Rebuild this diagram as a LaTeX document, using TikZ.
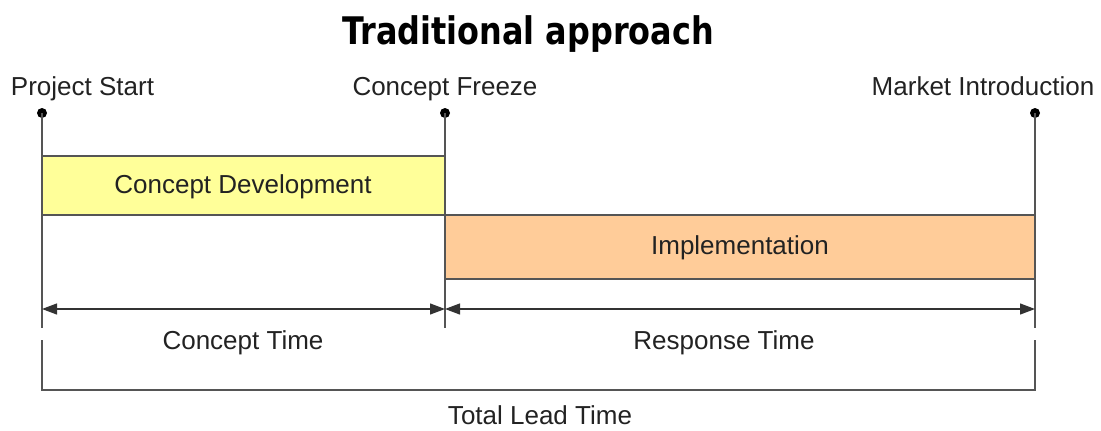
\documentclass[tikz,border=0pt]{standalone}
\usepackage{fontspec}
\setmainfont{Liberation Sans}
\newfontfamily\titlefont[FakeStretch=0.84]{DejaVu Sans Bold}
\usetikzlibrary{arrows.meta}
\definecolor{conceptfill}{HTML}{FFFF99}
\definecolor{implfill}{HTML}{FFCC99}
\definecolor{linegray}{HTML}{555555}
\definecolor{txtgray}{HTML}{222222}
\tikzset{
  lbl/.style={anchor=base, inner sep=0pt, text=txtgray, font=\fontsize{26}{26}\selectfont},
  phase/.style={draw=linegray, line width=1.3pt},
  mile/.style={draw=linegray, line width=1.2pt},
  span/.style={draw=black!80, line width=1.2pt, {Triangle[length=15pt,width=11pt]}-{Triangle[length=15pt,width=11pt]}},
  dotmark/.style={circle, fill=black, inner sep=0pt, minimum size=10pt},
}
\begin{document}
\begin{tikzpicture}[x=1pt, y=-1pt]
\useasboundingbox (0,0) rectangle (1101,431);

% heading
\node[anchor=base, inner sep=0pt, font=\titlefont\fontsize{38}{38}\selectfont] (title) at (528,44) {Traditional approach};

% milestones
\node[lbl] (start)  at (82.5,95) {Project Start};
\node[lbl] (freeze) at (445,95)  {Concept Freeze};
\node[lbl] (market) at (983,95)  {Market Introduction};
\node[dotmark] (d1) at (42,113) {};
\node[dotmark] (d2) at (445,113) {};
\node[dotmark] (d3) at (1035,113) {};
\coordinate (e1) at (42,328);
\coordinate (e2) at (445,328);
\coordinate (e3) at (1035,328);
\draw[mile] (d1.center) -- (e1);
\draw[mile] (d2.center) -- (e2);
\draw[mile] (d3.center) -- (e3);

% phases
\draw[phase, fill=conceptfill] (42,156) rectangle (445,215);
\draw[phase, fill=implfill] (445,215) rectangle (1035,279);
\node[lbl] (cdev) at (243,193) {Concept Development};
\node[lbl] (impl) at (740,254) {Implementation};

% time spans
\coordinate (a1) at (42,309);
\coordinate (a2) at (445,309);
\coordinate (a3) at (1035,309);
\draw[span] (a1) -- (a2);
\draw[span] (a2) -- (a3);
\node[lbl] (ctime) at (243,349) {Concept Time};
\node[lbl] (rtime) at (724,349) {Response Time};

% total bracket
\coordinate (b1) at (42,340);
\coordinate (b2) at (1035,340);
\draw[mile] (b1) -- (42,390) -- (1035,390) -- (b2);
\node[lbl] (total) at (540,424) {Total Lead Time};
\end{tikzpicture}
\end{document}
